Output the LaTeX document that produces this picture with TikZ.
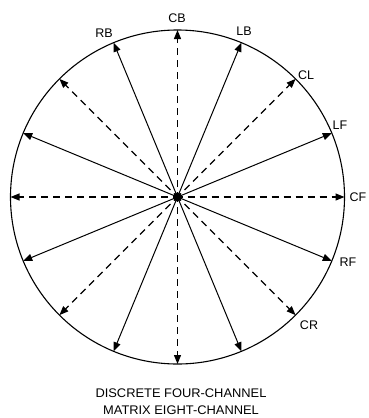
\documentclass[tikz,border=0pt]{standalone}
\usepackage{fontspec}
\setmainfont{Liberation Sans}
\usetikzlibrary{arrows.meta}
\begin{document}
\begin{tikzpicture}[x=1pt,y=-1pt,
  rim/.style={line width=1.1pt},
  solidarrow/.style={line width=1pt,-{Triangle[length=9pt,width=7pt]}},
  dasharrow/.style={line width=1.2pt,dash pattern=on 7pt off 5pt,-{Triangle[length=9pt,width=7pt]}},
  lbl/.style={font=\fontsize{12.5}{13}\selectfont,inner sep=0pt},
  captext/.style={font=\fontsize{12.5}{13}\selectfont,inner sep=0pt,xscale=1.03}]
\useasboundingbox (0,0) rectangle (368,418);
\coordinate (O) at (177.5,197);
\draw[rim] (O) circle[radius=167pt];
\foreach \i in {0,...,15}{
  \pgfmathsetmacro\ang{\i*22.5}
  \path (O) ++(\ang:167pt) coordinate (p\i);
}
\foreach \i in {1,3,...,15} \draw[solidarrow] (O) -- (p\i);
\foreach \i in {0,2,...,14} \draw[dasharrow,dash phase=2pt] (O) -- (p\i);
\node[circle,fill=black,inner sep=0pt,minimum size=9pt] (c) at (O) {};
\node[lbl] (CB) at (177,18) {CB};
\node[lbl] (RB) at (104,33) {RB};
\node[lbl] (LB) at (244,31) {LB};
\node[lbl] (CL) at (306,75) {CL};
\node[lbl] (LF) at (340,125) {LF};
\node[lbl] (CF) at (358,197) {CF};
\node[lbl] (RF) at (348,262) {RF};
\node[lbl] (CR) at (309,325) {CR};
\node[captext] (t1) at (181,393) {DISCRETE FOUR-CHANNEL};
\node[captext] (t2) at (181,410) {MATRIX EIGHT-CHANNEL};
\end{tikzpicture}
\end{document}
